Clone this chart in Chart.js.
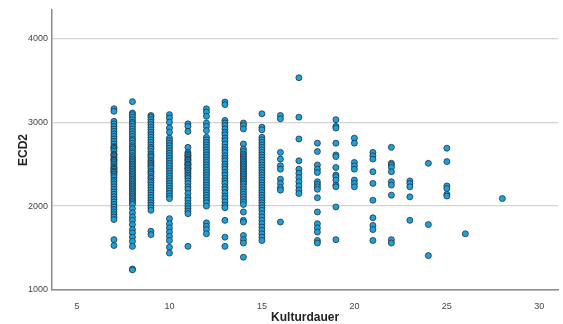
<!DOCTYPE html>
<html>
<head>
<meta charset="utf-8">
<script src="https://cdn.jsdelivr.net/npm/chart.js@4/dist/chart.umd.min.js"></script>
<style>
  html, body { margin: 0; padding: 0; background: #fff; }
  #wrap { width: 563px; height: 324px; }
</style>
</head>
<body>
<div id="wrap"><canvas id="scatterChart" width="563" height="324"></canvas></div>
<script>
// Kulturdauer groups and the ECD2 values measured in each group
var kulturdauer = [7, 8, 9, 10, 11, 12, 13, 14, 15, 16, 17, 18, 19, 20, 21, 22, 23, 24, 25, 26, 28];

var ecd7 = [3160, 3130, 3010, 2980, 2950, 2920, 2890, 2860, 2830, 2800, 2770, 2740, 2710, 2700, 2690, 2670, 2650, 2620, 2610, 2600, 2580, 2560, 2550, 2540, 2520, 2500, 2480, 2460, 2450, 2440, 2420, 2410, 2400, 2380, 2360, 2340, 2310, 2290, 2260, 2230, 2200, 2170, 2140, 2110, 2080, 2050, 2020, 1990, 1960, 1930, 1900, 1870, 1840, 1600, 1530];
var ecd8 = [3245, 3110, 3090, 3060, 3030, 3000, 2980, 2950, 2920, 2890, 2860, 2830, 2800, 2780, 2750, 2720, 2700, 2680, 2650, 2630, 2600, 2580, 2560, 2540, 2520, 2500, 2480, 2460, 2440, 2420, 2400, 2380, 2360, 2340, 2320, 2300, 2280, 2260, 2240, 2220, 2200, 2180, 2160, 2140, 2120, 2100, 2080, 2060, 2040, 2020, 1970, 1920, 1870, 1830, 1780, 1720, 1680, 1630, 1580, 1520, 1250, 1240];
var ecd9 = [3080, 3060, 3030, 3000, 2970, 2940, 2910, 2880, 2850, 2820, 2790, 2760, 2730, 2700, 2680, 2650, 2620, 2600, 2580, 2550, 2530, 2510, 2490, 2470, 2450, 2420, 2400, 2380, 2350, 2330, 2300, 2280, 2250, 2220, 2190, 2160, 2130, 2100, 2070, 2040, 2010, 1980, 1950, 1700, 1660];
var ecd10 = [3090, 3050, 3000, 2930, 2880, 2810, 2780, 2750, 2720, 2690, 2660, 2630, 2600, 2570, 2540, 2510, 2480, 2450, 2420, 2390, 2360, 2330, 2300, 2270, 2240, 2210, 2180, 2150, 2120, 2090, 1850, 1790, 1740, 1690, 1640, 1590, 1510, 1440];
var ecd11 = [2980, 2950, 2890, 2700, 2640, 2620, 2600, 2600, 2580, 2560, 2550, 2540, 2520, 2500, 2500, 2490, 2470, 2450, 2450, 2430, 2410, 2390, 2370, 2350, 2330, 2300, 2270, 2230, 2200, 2150, 2100, 2070, 2030, 2000, 1970, 1940, 1910, 1520];
var ecd12 = [3160, 3120, 3070, 2990, 2950, 2900, 2820, 2790, 2760, 2730, 2700, 2670, 2640, 2610, 2580, 2550, 2520, 2490, 2460, 2430, 2400, 2370, 2340, 2310, 2280, 2250, 2220, 2190, 2160, 2130, 2100, 2070, 2040, 2000, 1800, 1760, 1720, 1670];
var ecd13 = [3240, 3210, 3020, 2990, 2960, 2920, 2880, 2850, 2810, 2780, 2740, 2700, 2670, 2640, 2600, 2570, 2540, 2500, 2470, 2440, 2400, 2370, 2330, 2300, 2270, 2230, 2200, 2160, 2120, 2090, 2050, 2010, 1980, 1830, 1630, 1520];
var ecd14 = [2990, 2960, 2920, 2740, 2680, 2650, 2620, 2600, 2580, 2560, 2540, 2520, 2500, 2480, 2460, 2440, 2420, 2400, 2380, 2360, 2340, 2320, 2300, 2280, 2260, 2230, 2200, 2170, 2140, 2110, 2080, 2050, 2020, 1930, 1830, 1810, 1650, 1600, 1560, 1390];
var ecd15 = [3100, 2940, 2910, 2820, 2790, 2760, 2730, 2700, 2670, 2640, 2610, 2580, 2550, 2520, 2490, 2460, 2430, 2400, 2370, 2340, 2310, 2280, 2250, 2220, 2190, 2160, 2130, 2100, 2070, 2040, 2010, 1980, 1950, 1910, 1870, 1830, 1790, 1750, 1710, 1670, 1630, 1590];
var ecd16 = [3080, 3040, 2640, 2560, 2480, 2440, 2320, 2270, 2220, 2190, 1810];
var ecd17 = [3530, 3060, 2800, 2540, 2440, 2390, 2340, 2290, 2240, 2190, 2150];
var ecd18 = [2750, 2650, 2490, 2440, 2400, 2290, 2260, 2230, 2200, 2100, 1930, 1790, 1740, 1690, 1590, 1560];
var ecd19 = [3030, 2950, 2930, 2750, 2610, 2590, 2460, 2370, 2350, 2310, 2250, 2230, 1990, 1600];
var ecd20 = [2810, 2750, 2520, 2480, 2440, 2310, 2270, 2230];
var ecd21 = [2640, 2600, 2560, 2410, 2270, 2070, 1860, 1770, 1720, 1590];
var ecd22 = [2700, 2510, 2490, 2460, 2410, 2290, 2250, 2130, 1600, 1560];
var ecd23 = [2300, 2270, 2230, 2110, 1830];
var ecd24 = [2510, 1780, 1410];
var ecd25 = [2690, 2530, 2240, 2210, 2140, 2120];
var ecd26 = [1670];
var ecd28 = [2090];

var ecdGroups = [ecd7, ecd8, ecd9, ecd10, ecd11, ecd12, ecd13, ecd14, ecd15, ecd16, ecd17,
  ecd18, ecd19, ecd20, ecd21, ecd22, ecd23, ecd24, ecd25, ecd26, ecd28];

var xTicks = [5, 10, 15, 20, 25, 30];
var yTicks = [1000, 2000, 3000, 4000];

// flatten groups into {x, y} points
var points = [];
for (var i = 0; i < kulturdauer.length; i++) {
  ecdGroups[i].forEach(function (v) {
    points.push({ x: kulturdauer[i], y: v });
  });
}

var ctx = document.getElementById("scatterChart").getContext("2d");

var myChart = new Chart(ctx, {
  type: "scatter",
  data: {
    datasets: [
      {
        label: "ECD2",
        data: points,
        backgroundColor: "#1da1dc",
        borderColor: "#22313f",
        borderWidth: 0.8,
        pointRadius: 3,
      },
    ],
  },
  options: {
    responsive: false,
    animation: false,
    layout: { padding: { top: 10, right: 3, left: 0, bottom: 0 } },
    plugins: {
      legend: { display: false },
      tooltip: { enabled: false },
    },
    scales: {
      x: {
        type: "linear",
        min: 3.65,
        max: 31.02,
        afterBuildTicks: function (axis) {
          axis.ticks = xTicks.map(function (v) { return { value: v }; });
        },
        afterFit: function (axis) { axis.height = 34; },
        grid: { display: false },
        border: { display: true, color: "#8c8c8c", width: 1.5 },
        ticks: {
          color: "#444",
          padding: 3,
          maxRotation: 0,
          font: { family: "Liberation Sans", size: 9 },
          callback: function (value) { return String(value); },
        },
        title: {
          display: true,
          text: "Kulturdauer",
          color: "#222",
          padding: { top: 0, bottom: 0 },
          font: { family: "Liberation Sans", size: 12, weight: "bold", lineHeight: 1 },
        },
      },
      y: {
        min: 1000,
        max: 4337,
        afterBuildTicks: function (axis) {
          axis.ticks = yTicks.map(function (v) { return { value: v }; });
        },
        afterFit: function (axis) { axis.width = 52; },
        grid: {
          color: "#d4d4d4",
          lineWidth: 1.2,
          drawTicks: false,
        },
        border: { display: true, color: "#8c8c8c", width: 1.5 },
        ticks: {
          color: "#444",
          padding: 4,
          font: { family: "Liberation Sans", size: 9 },
          callback: function (value) { return String(value); },
        },
        title: {
          display: true,
          text: "ECD2",
          color: "#222",
          padding: { top: 16, bottom: 0 },
          font: { family: "Liberation Sans", size: 12, weight: "bold", lineHeight: 1.2 },
        },
      },
    },
  },
});
</script>
</body>
</html>
